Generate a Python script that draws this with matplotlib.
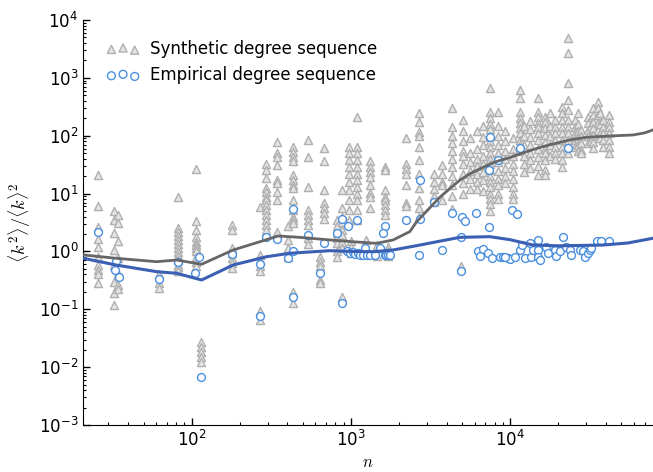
import matplotlib
matplotlib.use('Agg')
import matplotlib.pyplot as plt
import numpy as np

plt.rcParams['mathtext.fontset'] = 'cm'
plt.rcParams['font.family'] = ['DejaVu Sans']

# ---- synthetic degree sequences: network size n and sampled <k^2>/<k>^2 values
syn_n = [25.7, 32.5, 34.5, 62, 82, 107, 115, 179, 269, 294, 344, 403, 433, 537,
         638, 676, 817, 875, 879, 970, 1000, 1091, 1250, 1315, 1450, 1633, 1700,
         2213, 2679, 3319, 3724, 4305, 4950, 5047, 5600, 6180, 6800, 7464, 8375,
         9300, 10400, 11500, 12200, 13300, 14900, 16500, 17800, 19100, 21100,
         23000, 25500, 26700, 28000, 30800, 32000, 33000, 35500, 36800, 38200,
         41700]
syn_vals = [
    [21, 6.1, 2.6, 1.64, 1.19, 0.80, 0.58, 0.48, 0.41, 0.285],
    [4.9, 3.5, 2.06, 1.06, 0.58, 0.30, 0.19, 0.119],
    [4.3, 3.1, 1.53, 0.76, 0.42, 0.26, 0.22],
    [0.40, 0.28, 0.23],
    [8.6, 2.5, 2.2, 1.85, 1.58, 1.35, 1.13, 0.99, 0.83, 0.71, 0.58, 0.54, 0.45],
    [27, 3.3, 2.35, 1.8, 1.47, 1.29, 1.13, 1.0, 0.81, 0.66, 0.55],
    [0.0276, 0.0226, 0.0185, 0.0152, 0.0124],
    [2.86, 2.35, 1.13, 0.94, 0.77, 0.63, 0.52],
    [5.9, 0.87, 0.71, 0.55, 0.45, 0.095, 0.065],
    [33, 25.6, 18.4, 12.3, 10.8, 8.8, 7.7, 6.3, 5.2, 4.3, 3.5, 2.9, 2.35],
    [79, 50, 43, 31, 17, 15, 10.8, 7.7, 2.2],
    [2.7, 1.58, 1.13, 0.81],
    [65, 53, 43, 36, 21, 17, 14, 12.3, 7.7, 5.2, 4.0, 3.5, 3.1, 0.2, 0.13],
    [84, 43, 13, 5.2, 4.3, 3.5, 2.9, 1.68, 1.35],
    [0.81, 0.66, 0.55, 0.32, 0.28],
    [61, 36, 11.5, 6.8, 5.6, 4.6, 3.7],
    [3.5, 2.7, 2.06, 1.68, 1.38, 1.0, 0.81],
    [0.16],
    [11.5, 5.6, 4.0, 3.2, 2.35, 1.92, 1.47, 1.13],
    [65, 50, 38, 29, 22, 16, 11.5, 7.7, 5.2, 3.5],
    [1.5, 1.2, 0.95],
    [213, 65, 50, 38, 29, 22, 17, 13, 10, 7.7, 5.2, 3.5],
    [1.6, 1.1, 0.9],
    [36, 29, 24, 19.6, 14, 10.1, 8.8, 5.6],
    [1.3, 0.85],
    [29, 25.6, 11.5, 8.8, 7.7, 6.3, 5.2, 4.3],
    [1.2, 1.0, 0.85],
    [90, 33, 26.5, 22, 14, 6.8, 6.0],
    [244, 175, 118, 100, 65, 38, 22, 12.3, 7.7, 5.6, 4.0],
    [22, 16, 12, 9, 7.2],
    [31, 22, 16, 14, 7.7],
    [298, 143, 100, 75, 55, 40, 29, 20, 14, 9, 5.5],
    [0.55],
    [187, 120, 80, 55, 45, 33, 22, 15, 10],
    [90, 50, 35, 25, 18, 12],
    [120, 60, 40, 30, 22, 16, 12],
    [150, 95, 70, 45, 32, 24, 17, 11],
    [660, 260, 200, 160, 130, 100, 80, 65, 50, 40, 33, 26, 20, 16, 13, 10, 8, 6.5, 5],
    [260, 150, 100, 70, 50, 35, 25, 18, 14, 10, 8],
    [120, 80, 55, 40, 28, 20, 15],
    [90, 60, 45, 33, 25, 18, 13, 10, 8],
    [616, 444, 260, 200, 164, 135, 110, 84, 70, 55],
    [150, 100, 70, 45, 33, 24],
    [180, 130, 95, 70, 50, 38, 28],
    [444, 260, 213, 164, 143, 110, 85, 60, 43, 30, 21],
    [213, 175, 135, 104, 79, 60, 50, 38, 25.6, 21],
    [250, 150, 100, 70, 45],
    [187, 143, 110, 84, 65, 50, 40],
    [316, 244, 187, 143, 110, 84, 65, 50, 38, 29],
    [4820, 2650, 805, 414, 278, 187, 143, 110, 84, 65, 50],
    [187, 143, 110, 84, 65],
    [250, 160, 120, 90, 70, 55],
    [126, 98, 74, 56, 50],
    [213, 164, 126, 98, 74],
    [150, 100, 80],
    [298, 228, 175, 135, 104, 79, 61],
    [387, 298, 228, 164, 126],
    [250, 160, 110, 90],
    [187, 143, 110, 84, 65],
    [228, 175, 143, 110, 84, 65, 50],
]

# ---- empirical degree sequences
emp_n = [25.7, 33.0, 34.8, 33.5, 62, 82, 105, 112, 115, 179, 269, 269, 294, 344,
         403, 433, 433, 433, 537, 638, 676, 817, 875, 879, 960, 1096,
         940, 986, 1031, 1060, 1107, 1150, 1190, 1255, 1230, 1316, 1415, 1521,
         1633, 1674, 1707, 1757, 1633, 1600, 2213, 2700, 2700, 2670, 3319, 3760,
         4305, 4950, 4950, 5020, 5200, 6150, 7464, 8375, 7400, 7400,
         6310, 6460, 6780, 7280, 7650, 8610, 9040, 9710, 9950,
         11500, 10300, 11130, 23000,
         9290, 10710, 11510, 11800, 12370, 13300, 13630, 13950, 15000, 15000,
         15000, 15360, 16900, 17330, 19100, 19550, 20500, 21500, 22600, 23700,
         24300, 27400, 28700, 29400, 30900, 31600, 32400, 34900, 37500, 41700]
emp_v = [2.19, 0.48, 0.365, 0.67, 0.33, 0.65, 0.43, 0.81, 0.0068, 0.90, 0.61, 0.078,
         1.75, 1.64, 0.76, 5.4, 1.0, 0.165, 1.92, 0.42, 1.38, 2.1, 0.13, 3.6, 2.7, 3.5,
         1.0, 0.95, 0.96, 0.92, 0.93, 0.88, 0.87, 0.87, 1.13, 0.87, 0.88, 1.13,
         0.87, 0.87, 0.87, 0.88, 2.7, 2.1, 3.5, 17, 3.7, 0.87, 7.2, 1.06,
         4.6, 1.8, 0.45, 4.0, 3.4, 4.6, 96, 38, 25.6, 2.6,
         1.0, 0.85, 1.08, 0.95, 0.76, 0.81, 0.81, 0.76, 0.73,
         62, 5.1, 4.4, 62,
         0.81, 0.81, 1.06, 1.29, 0.76, 1.41, 0.81, 1.06, 1.58, 1.06,
         0.81, 0.70, 1.18, 0.95, 1.06, 0.83, 1.0, 1.8, 1.18, 1.06,
         0.87, 1.06, 1.0, 0.81, 0.95, 1.06, 1.13, 1.54, 1.50, 1.54]

# ---- trend curves
trend_syn_n = [20.9, 33.8, 60.3, 80.5, 115.6, 182.5, 268, 350, 479, 738, 1033,
               1449, 1845, 2346, 2600, 3000, 3600, 4300, 4830, 5600, 6500, 8000,
               10000, 12700, 15500, 18600, 24000, 30200, 42300, 59200, 70000, 79000]
trend_syn_v = [0.87, 0.76, 0.665, 0.71, 0.60, 1.06, 1.47, 1.85, 1.75, 1.58, 1.47,
               1.38, 1.58, 2.2, 3.3, 5.0, 8.5, 13, 17, 22, 27, 35,
               42, 53, 63, 72, 85, 94, 99, 103, 112, 126]
trend_emp_n = [20.9, 33.8, 60.3, 80.5, 115.6, 182.5, 296, 414, 738, 1000, 1400,
               1845, 2720, 3600, 4830, 7460, 9950, 13900, 20000, 38400, 55000, 79000]
trend_emp_v = [0.76, 0.58, 0.447, 0.419, 0.321, 0.583, 0.81, 0.93, 1.03, 1.0, 0.99,
               1.06, 1.29, 1.5, 1.75, 1.80, 1.6, 1.29, 1.25, 1.29, 1.4, 1.69]

fig = plt.figure(figsize=(6.53, 4.72), dpi=100)
ax = fig.add_axes([0.1276, 0.0996, 0.8724, 0.858])

xs = np.concatenate([[n] * len(v) for n, v in zip(syn_n, syn_vals)])
ys = np.concatenate([np.asarray(v, float) for v in syn_vals])
ax.scatter(xs, ys, marker='^', s=34, facecolor='#e4e4e4', edgecolor='#b0b0b0',
           linewidth=1.0, label='Synthetic degree sequence', zorder=2)
ax.scatter(emp_n, emp_v, marker='o', s=32, facecolor='white', edgecolor='#4a8fe0',
           linewidth=1.0, label='Empirical degree sequence', zorder=3)
ax.plot(trend_syn_n, trend_syn_v, color='#666666', lw=2.0, zorder=4)
ax.plot(trend_emp_n, trend_emp_v, color='#3a5fb3', lw=2.2, zorder=4)

ax.set_xscale('log')
ax.set_yscale('log')
ax.set_xlim(20.9, 79000)
ax.set_ylim(1e-3, 1e4)
for s in ['top', 'right']:
    ax.spines[s].set_visible(False)
ax.tick_params(which='both', direction='in', labelsize=12, colors='black')
ax.tick_params(which='major', length=5, width=1)
ax.tick_params(which='minor', length=2.5, width=0.8)
ax.set_yticks([1e-3, 1e-2, 1e-1, 1e0, 1e1, 1e2, 1e3, 1e4])
ax.set_xlabel('$n$', fontsize=12, labelpad=2)
ax.set_ylabel(r'$\langle k^2\rangle/\langle k\rangle^2$', fontsize=13, labelpad=4)

leg = ax.legend(loc='upper left', bbox_to_anchor=(0.02, 0.98), frameon=False,
                scatterpoints=3, fontsize=12, handletextpad=0.6, borderaxespad=0.3)

fig.savefig('out.png', dpi=100)
